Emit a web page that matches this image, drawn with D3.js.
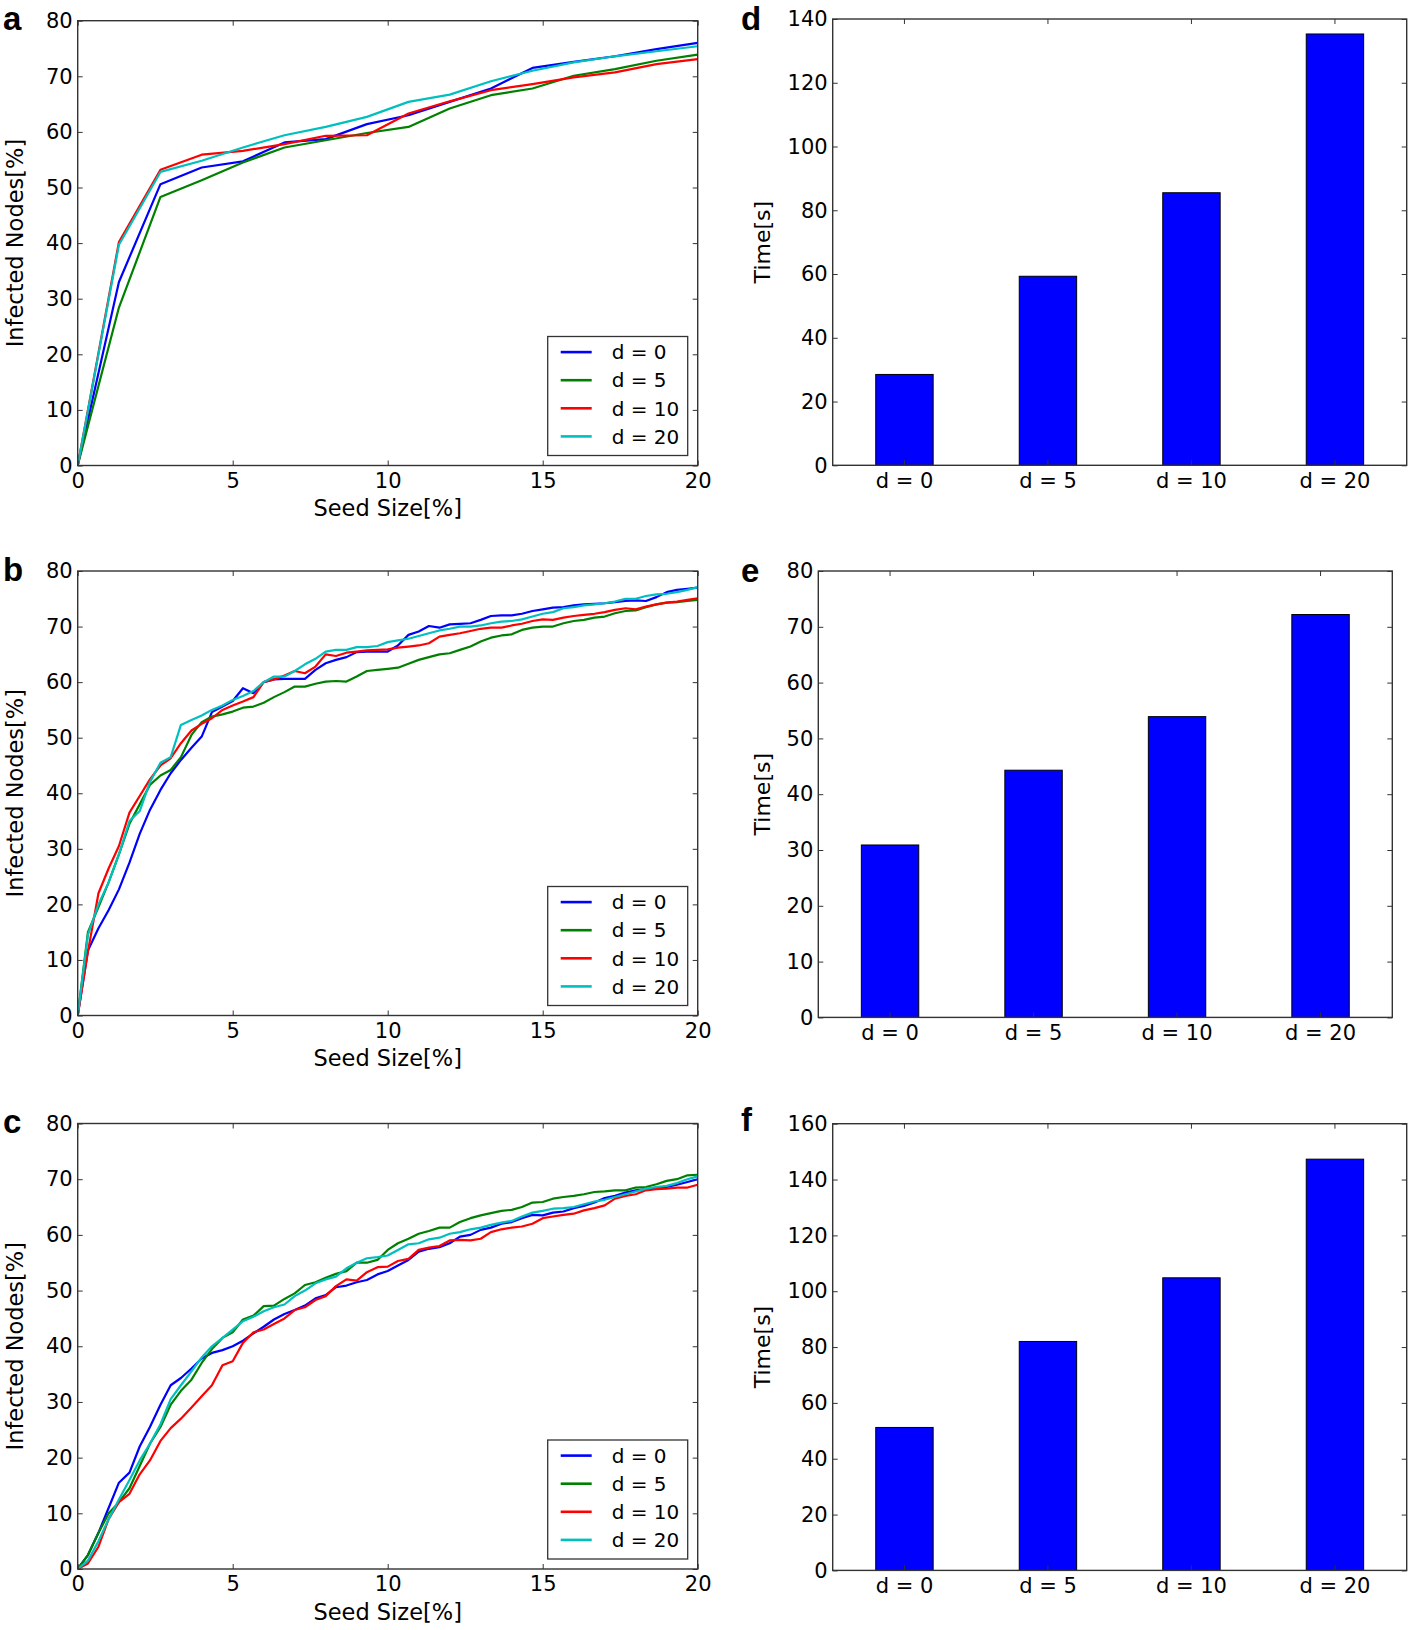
<!DOCTYPE html>
<html>
<head>
<meta charset="utf-8">
<script src="https://cdn.jsdelivr.net/npm/d3@7"></script>
<style>
  body { margin: 0; background: #fff; }
  text { font-family: 'DejaVu Sans', sans-serif; fill: #000; }
  .letter { font-family: 'Liberation Sans', Arial, sans-serif; font-weight: bold; font-size: 33px; }
</style>
</head>
<body>
<svg id="fig" width="1418" height="1630"></svg>
<script>
// seed size grid
let seedA = [0, 1.33, 2.67, 4, 5.33, 6.67, 8, 9.33, 10.67, 12, 13.33, 14.67, 16, 17.33, 18.67, 20];
let seedBC = [0, 0.33, 0.67, 1, 1.33, 1.67, 2, 2.33, 2.67, 3, 3.33, 3.67, 4, 4.33, 4.67, 5, 5.33, 5.67,
    6, 6.33, 6.67, 7, 7.33, 7.67, 8, 8.33, 8.67, 9, 9.33, 9.67, 10, 10.33, 10.67, 11, 11.33, 11.67,
    12, 12.33, 12.67, 13, 13.33, 13.67, 14, 14.33, 14.67, 15, 15.33, 15.67, 16, 16.33, 16.67, 17, 17.33, 17.67,
    18, 18.33, 18.67, 19, 19.33, 19.67, 20];

let seriesNames = ['d = 0', 'd = 5', 'd = 10', 'd = 20'];
let seriesColors = ['#0000ff', '#008000', '#ff0000', '#00bfbf'];

// panel a
let aD0 = [0, 33.0, 50.6, 53.6, 54.7, 58.1, 58.7, 61.4, 63.0, 65.4, 67.8, 71.5, 72.6, 73.6, 74.9, 76.0];
let aD5 = [0, 28.4, 48.3, 51.3, 54.5, 57.2, 58.5, 59.8, 60.9, 64.2, 66.6, 67.8, 70.1, 71.3, 72.8, 73.9];
let aD10 = [0, 40.2, 53.2, 55.9, 56.6, 57.8, 59.3, 59.4, 63.3, 65.5, 67.5, 68.6, 69.8, 70.7, 72.2, 73.1];
let aD20 = [0, 39.7, 52.8, 54.8, 57.2, 59.4, 60.9, 62.7, 65.4, 66.7, 69.1, 71.0, 72.5, 73.6, 74.5, 75.4];

// panel b
let bD0 = [0, 11.7, 15.7, 19.0, 22.7, 27.5, 32.7, 37.0, 40.6, 43.6, 46.0, 48.2, 50.2, 54.6, 55.6, 56.6, 58.9, 58.0,
    60.0, 60.5, 60.6, 60.6, 60.6, 62.2, 63.4, 64.0, 64.5, 65.4, 65.5, 65.5, 65.5, 66.6, 68.5, 69.1, 70.1, 69.8,
    70.4, 70.5, 70.6, 71.2, 71.9, 72.0, 72.0, 72.3, 72.8, 73.1, 73.4, 73.5, 73.8, 74.0, 74.1, 74.2, 74.4, 74.6,
    74.7, 74.6, 75.3, 76.2, 76.6, 76.8, 77.0];
let bD5 = [0, 15.0, 19.5, 24.0, 29.0, 34.5, 38.0, 41.5, 43.2, 44.2, 46.5, 50.5, 52.8, 53.8, 54.2, 54.7, 55.4, 55.6,
    56.3, 57.3, 58.2, 59.2, 59.2, 59.7, 60.1, 60.2, 60.1, 61.0, 62.0, 62.2, 62.4, 62.6, 63.3, 64.0, 64.5, 65.0,
    65.2, 65.8, 66.4, 67.3, 68.0, 68.4, 68.6, 69.4, 69.8, 70.0, 70.0, 70.6, 71.0, 71.2, 71.6, 71.8, 72.4, 72.8,
    72.9, 73.5, 74.0, 74.3, 74.4, 74.6, 74.8];
let bD10 = [0, 11.5, 22.0, 26.5, 30.5, 36.5, 39.5, 42.5, 45.0, 46.3, 49.0, 51.3, 52.5, 53.5, 55.0, 55.8, 56.5, 57.3,
    60.0, 60.5, 61.2, 62.0, 61.6, 62.8, 65.0, 64.7, 65.3, 65.5, 65.7, 65.8, 65.9, 66.2, 66.4, 66.6, 67.0, 68.2,
    68.5, 68.8, 69.2, 69.6, 69.8, 69.8, 70.2, 70.5, 71.0, 71.3, 71.2, 71.6, 71.9, 72.1, 72.3, 72.6, 73.0, 73.3,
    73.1, 73.6, 74.0, 74.3, 74.5, 74.8, 75.1];
let bD20 = [0, 14.5, 20.0, 24.0, 29.0, 35.0, 36.8, 42.0, 45.5, 46.5, 52.3, 53.2, 54.0, 55.0, 55.8, 56.8, 57.5, 58.4,
    60.0, 61.0, 61.0, 62.0, 63.2, 64.2, 65.5, 65.8, 65.8, 66.3, 66.3, 66.5, 67.2, 67.5, 67.8, 68.3, 68.8, 69.3,
    69.6, 70.0, 70.0, 70.2, 70.6, 70.9, 71.0, 71.3, 71.8, 72.3, 72.6, 73.3, 73.5, 73.8, 74.0, 74.2, 74.5, 75.0,
    75.0, 75.5, 75.8, 75.9, 76.2, 76.6, 77.1];

// panel c
let cD0 = [0, 2.5, 6.5, 11.0, 15.5, 17.3, 22.0, 25.5, 29.5, 33.0, 34.3, 36.0, 37.8, 38.8, 39.3, 40.0, 41.0, 42.3,
    43.5, 44.8, 45.8, 46.5, 47.3, 48.6, 49.2, 50.6, 50.9, 51.5, 51.9, 52.9, 53.5, 54.5, 55.5, 57.0, 57.5, 57.8,
    58.5, 59.7, 60.0, 60.9, 61.3, 62.0, 62.3, 63.0, 63.6, 63.5, 64.0, 64.2, 64.8, 65.2, 65.8, 66.6, 67.0, 67.6,
    68.0, 68.2, 68.5, 68.6, 69.0, 69.5, 70.0];
let cD5 = [0, 2.5, 6.5, 10.0, 12.0, 14.5, 18.5, 22.5, 25.5, 29.5, 32.0, 34.0, 37.0, 39.5, 41.5, 42.5, 44.8, 45.5,
    47.2, 47.3, 48.5, 49.5, 51.0, 51.5, 52.3, 53.0, 53.5, 55.0, 55.0, 55.5, 57.3, 58.5, 59.3, 60.2, 60.7, 61.3,
    61.3, 62.3, 63.0, 63.5, 63.9, 64.3, 64.5, 65.0, 65.8, 65.9, 66.5, 66.8, 67.0, 67.3, 67.7, 67.8, 68.0, 68.0,
    68.5, 68.6, 69.1, 69.7, 70.0, 70.7, 70.8];
let cD10 = [0, 1.0, 4.0, 9.0, 12.0, 13.5, 17.0, 19.5, 23.0, 25.3, 27.0, 29.0, 31.0, 33.0, 36.6, 37.3, 40.6, 42.5,
    43.0, 44.0, 45.0, 46.5, 47.0, 48.3, 49.0, 50.8, 52.0, 51.8, 53.3, 54.2, 54.3, 55.3, 55.7, 57.3, 57.7, 58.0,
    59.0, 59.1, 59.0, 59.3, 60.5, 61.0, 61.3, 61.5, 62.0, 63.0, 63.3, 63.6, 63.8, 64.4, 64.8, 65.3, 66.5, 67.0,
    67.3, 68.0, 68.2, 68.3, 68.5, 68.5, 69.0];
let cD20 = [0, 1.5, 5.0, 9.0, 12.5, 16.0, 19.5, 22.5, 26.0, 30.5, 33.0, 35.5, 38.0, 40.0, 41.5, 43.0, 44.5, 45.3,
    46.3, 47.0, 47.5, 49.0, 50.0, 51.3, 52.0, 52.5, 54.0, 55.0, 55.8, 56.0, 56.3, 57.3, 58.3, 58.5, 59.2, 59.5,
    60.2, 60.5, 61.0, 61.3, 61.8, 62.2, 62.5, 63.3, 64.0, 64.3, 64.7, 64.8, 65.0, 65.5, 66.0, 66.3, 66.8, 67.3,
    67.8, 68.3, 68.6, 68.8, 69.3, 70.0, 70.5];

// run times, panels d-f
let barLabels = ['d = 0', 'd = 5', 'd = 10', 'd = 20'];
let timeD = [28.5, 59.3, 85.5, 135.3];
let timeE = [30.9, 44.3, 53.9, 72.2];
let timeF = [51.2, 82.0, 104.8, 147.3];

let seedTicks = [0, 5, 10, 15, 20];
let infectedTicks = [0, 10, 20, 30, 40, 50, 60, 70, 80];
let timeTicksD = [0, 20, 40, 60, 80, 100, 120, 140];
let timeTicksE = [0, 10, 20, 30, 40, 50, 60, 70, 80];
let timeTicksF = [0, 20, 40, 60, 80, 100, 120, 140, 160];

let svg = d3.select('#fig');
let frameColor = '#333';
let tickFont = 21;

let styleAxis = (sel, hideText) => {
    sel.select('.domain').remove();
    sel.selectAll('.tick line').attr('stroke', frameColor).attr('stroke-width', 1);
    sel.selectAll('.tick text')
        .attr('font-size', tickFont)
        .attr('font-family', "'DejaVu Sans', sans-serif")
        .attr('fill', '#000');
    if (hideText) sel.selectAll('.tick text').remove();
}

let addAxes = (g, x, y, box, xTicks, yTicks) => {
    let bottom = d3.axisBottom(x).tickSizeInner(-5).tickSizeOuter(0).tickPadding(7.5);
    let top = d3.axisTop(x).tickSizeInner(-5).tickSizeOuter(0);
    let left = d3.axisLeft(y).tickValues(yTicks).tickSizeInner(-5).tickSizeOuter(0).tickPadding(5);
    let right = d3.axisRight(y).tickValues(yTicks).tickSizeInner(-5).tickSizeOuter(0);
    if (xTicks) {
        bottom.tickValues(xTicks);
        top.tickValues(xTicks);
    }
    g.append('g').attr('transform', `translate(0,${box.bottom})`).call(bottom).call(s => styleAxis(s, false));
    g.append('g').attr('transform', `translate(0,${box.top})`).call(top).call(s => styleAxis(s, true));
    g.append('g').attr('transform', `translate(${box.left},0)`).call(left).call(s => styleAxis(s, false));
    g.append('g').attr('transform', `translate(${box.right},0)`).call(right).call(s => styleAxis(s, true));

    g.append('rect')
        .attr('x', box.left)
        .attr('y', box.top)
        .attr('width', box.right - box.left)
        .attr('height', box.bottom - box.top)
        .attr('fill', 'none')
        .attr('stroke', frameColor)
        .attr('stroke-width', 1.4);
}

let addLetter = (letter, x, y) => {
    svg.append('text')
        .attr('class', 'letter')
        .attr('x', x)
        .attr('y', y)
        .text(letter);
}

let drawLinePanel = (id, box, xs, series, letter) => {
    let g = svg.append('g').attr('id', id);

    let x = d3.scaleLinear().domain([0, 20]).range([box.left, box.right]);
    let y = d3.scaleLinear().domain([0, 80]).range([box.bottom, box.top]);

    g.append('clipPath')
        .attr('id', 'clip-' + id)
        .append('rect')
        .attr('x', box.left)
        .attr('y', box.top)
        .attr('width', box.right - box.left)
        .attr('height', box.bottom - box.top);

    let line = d3.line()
        .x((d, i) => x(xs[i]))
        .y(d => y(d));

    g.append('g')
        .attr('clip-path', `url(#clip-${id})`)
        .selectAll('path')
        .data(series)
        .join('path')
        .attr('d', d => line(d))
        .attr('fill', 'none')
        .attr('stroke', (d, i) => seriesColors[i])
        .attr('stroke-width', 2.2)
        .attr('stroke-linejoin', 'round');

    addAxes(g, x, y, box, seedTicks, infectedTicks);

    // axis titles
    g.append('text')
        .attr('x', (box.left + box.right) / 2)
        .attr('y', box.bottom + 50.5)
        .attr('text-anchor', 'middle')
        .attr('font-size', 22.5)
        .text('Seed Size[%]');

    g.append('text')
        .attr('transform', `translate(${box.left - 55},${(box.top + box.bottom) / 2}) rotate(-90)`)
        .attr('text-anchor', 'middle')
        .attr('font-size', 22.5)
        .text('Infected Nodes[%]');

    // legend, lower right
    let lw = 140, lh = 119;
    let lx = box.right - 10 - lw;
    let ly = box.bottom - 10 - lh;
    let legend = g.append('g').attr('transform', `translate(${lx},${ly})`);
    legend.append('rect')
        .attr('width', lw)
        .attr('height', lh)
        .attr('fill', '#fff')
        .attr('stroke', frameColor)
        .attr('stroke-width', 1.3);
    let rows = legend.selectAll('g.row')
        .data(seriesNames)
        .join('g')
        .attr('class', 'row')
        .attr('transform', (d, i) => `translate(0,${15.6 + i * 28.1})`);
    rows.append('line')
        .attr('x1', 13)
        .attr('x2', 44)
        .attr('stroke', (d, i) => seriesColors[i])
        .attr('stroke-width', 2.6);
    rows.append('text')
        .attr('x', 64)
        .attr('dy', '0.36em')
        .attr('font-size', 20)
        .attr('xml:space', 'preserve')
        .text(d => d);

    addLetter(letter, 3, box.top + 9.5);
}

let drawBarPanel = (id, box, values, yMax, yTicks, letter, letterY) => {
    let g = svg.append('g').attr('id', id);

    let x = d3.scaleBand()
        .domain(barLabels)
        .range([box.left, box.right])
        .paddingInner(0.6)
        .paddingOuter(0.3);
    let y = d3.scaleLinear().domain([0, yMax]).range([box.bottom, box.top]);

    g.append('g')
        .selectAll('rect')
        .data(values)
        .join('rect')
        .attr('x', (d, i) => x(barLabels[i]))
        .attr('y', d => y(d))
        .attr('width', x.bandwidth())
        .attr('height', d => y(0) - y(d))
        .attr('fill', '#0000ff')
        .attr('stroke', '#000')
        .attr('stroke-width', 1);

    addAxes(g, x, y, box, null, yTicks);

    g.append('text')
        .attr('transform', `translate(770,${(box.top + box.bottom) / 2}) rotate(-90)`)
        .attr('text-anchor', 'middle')
        .attr('font-size', 22)
        .text('Time[s]');

    addLetter(letter, 741, letterY);
}

drawLinePanel('panelA', {left: 77.7, right: 697.7, top: 20.7, bottom: 465.5}, seedA, [aD0, aD5, aD10, aD20], 'a');
drawLinePanel('panelB', {left: 77.7, right: 697.7, top: 571, bottom: 1015.5}, seedBC, [bD0, bD5, bD10, bD20], 'b');
drawLinePanel('panelC', {left: 77.7, right: 697.7, top: 1123.5, bottom: 1569}, seedBC, [cD0, cD5, cD10, cD20], 'c');

drawBarPanel('panelD', {left: 832.7, right: 1406.7, top: 19, bottom: 465.3}, timeD, 140, timeTicksD, 'd', 29.7);
drawBarPanel('panelE', {left: 818.3, right: 1392.3, top: 571, bottom: 1017.4}, timeE, 80, timeTicksE, 'e', 582);
drawBarPanel('panelF', {left: 832.7, right: 1406.7, top: 1123.7, bottom: 1570.4}, timeF, 160, timeTicksF, 'f', 1131);
</script>
</body>
</html>
